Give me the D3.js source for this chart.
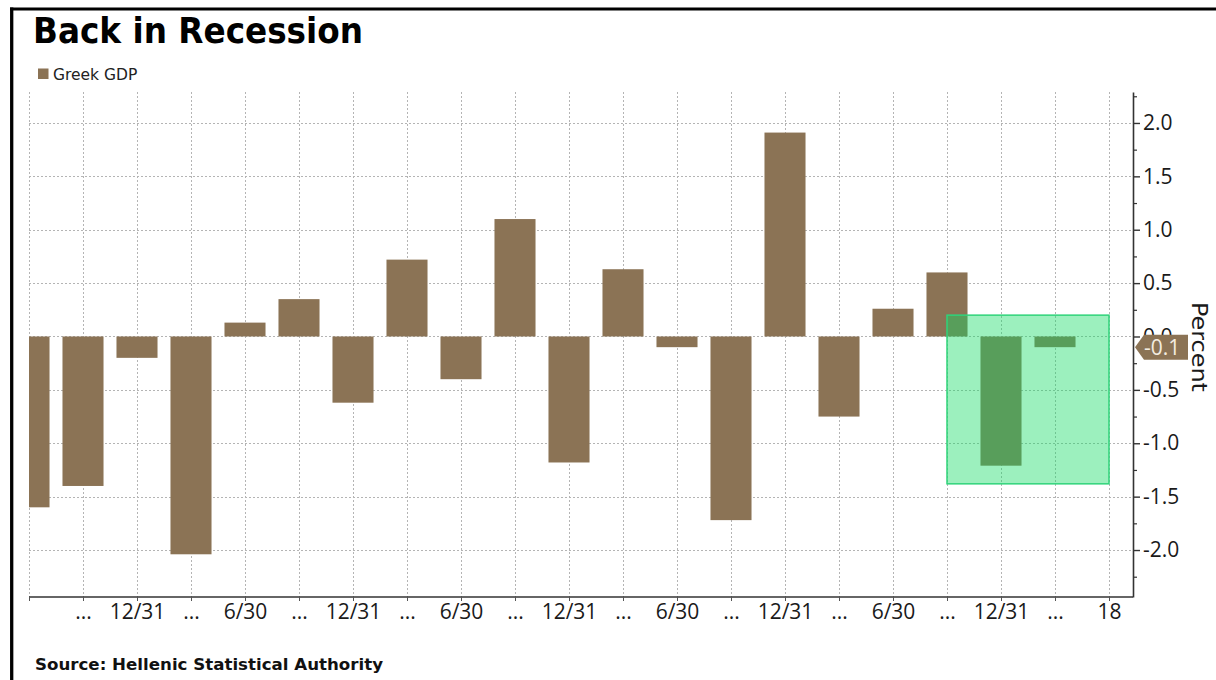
<!DOCTYPE html>
<html>
<head>
<meta charset="utf-8">
<script src="https://cdn.jsdelivr.net/npm/d3@7/dist/d3.min.js"></script>
<style>
  html, body { margin: 0; padding: 0; background: #fff; }
  svg { display: block; }
</style>
</head>
<body>
<svg id="chart" width="1216" height="680"></svg>
<script>
// Quarterly change in Greek GDP, percent (last slot on the axis has no reading yet)
const tickLabels = ["", "...", "12/31", "...", "6/30", "...", "12/31", "...", "6/30", "...",
                    "12/31", "...", "6/30", "...", "12/31", "...", "6/30", "...", "12/31", "...", "18"];
const gdpValues = [-1.6, -1.4, -0.2, -2.04, 0.13, 0.35, -0.62, 0.72, -0.4, 1.1,
                   -1.18, 0.63, -0.1, -1.72, 1.91, -0.75, 0.26, 0.6, -1.21, -0.1];
const majorTicks = [-2.0, -1.5, -1.0, -0.5, 0.0, 0.5, 1.0, 1.5, 2.0];
const minorTicks = [-2.25, -1.75, -1.25, -0.75, -0.25, 0.25, 0.75, 1.25, 1.75, 2.25];
// Shaded span: from slot 17 to slot 20, between these two values
const highlightSlots = [17, 20];
const highlightValues = [0.2, -1.38];

const seriesName = "Greek GDP";
const titleText = "Back in Recession";
const sourceText = "Source: Hellenic Statistical Authority";

const BAR = "#8b7355";
const GRID = "#b4b4b4";
const INK = "#1a1a1a";

const svg = d3.select("#chart");
const plot = { left: 29, right: 1133, top: 92, bottom: 597 };

const x = d3.scalePoint()
  .domain(d3.range(tickLabels.length))
  .range([plot.left, 1109]);
const barW = x.step() * 0.76;

const y = d3.scaleLinear()
  .domain([-2.44, 2.29])
  .range([plot.bottom, plot.top]);

// Frame
svg.append("line").attr("x1", 11.7).attr("x2", 11.7).attr("y1", 7.5).attr("y2", 680)
  .attr("stroke", "#000").attr("stroke-width", 3.3);
svg.append("line").attr("x1", 10).attr("x2", 1216).attr("y1", 9).attr("y2", 9)
  .attr("stroke", "#000").attr("stroke-width", 3);

// Title
svg.append("text")
  .attr("x", 33).attr("y", 43)
  .attr("font-family", "DejaVu Sans").attr("font-weight", "bold")
  .attr("font-size", 36).attr("fill", "#000")
  .attr("textLength", 330).attr("lengthAdjust", "spacingAndGlyphs")
  .text(titleText);

// Legend
svg.append("rect").attr("x", 38).attr("y", 68.5).attr("width", 10.5).attr("height", 10.5).attr("fill", BAR);
svg.append("text")
  .attr("x", 53).attr("y", 79.5)
  .attr("font-family", "DejaVu Sans").attr("font-size", 15.5).attr("fill", "#222")
  .text(seriesName);

// Clip for the plotting area
svg.append("defs").append("clipPath").attr("id", "plotClip")
  .append("rect")
  .attr("x", plot.left).attr("y", plot.top)
  .attr("width", plot.right - plot.left).attr("height", plot.bottom - plot.top);

const g = svg.append("g").attr("clip-path", "url(#plotClip)");

// Grid
g.selectAll("line.vgrid").data(x.domain()).join("line")
  .attr("class", "vgrid")
  .attr("x1", d => x(d) + 0.5).attr("x2", d => x(d) + 0.5)
  .attr("y1", plot.top).attr("y2", plot.bottom)
  .attr("stroke", GRID).attr("stroke-width", 1).attr("stroke-dasharray", "2,2");
g.selectAll("line.hgrid").data(majorTicks).join("line")
  .attr("class", "hgrid")
  .attr("x1", plot.left).attr("x2", plot.right)
  .attr("y1", d => Math.round(y(d)) + 0.5).attr("y2", d => Math.round(y(d)) + 0.5)
  .attr("stroke", GRID).attr("stroke-width", 1).attr("stroke-dasharray", "2,2");

// Bars
g.selectAll("rect.bar").data(gdpValues).join("rect")
  .attr("class", "bar")
  .attr("x", (d, i) => x(i) - barW / 2)
  .attr("width", barW)
  .attr("y", d => y(Math.max(0, d)))
  .attr("height", d => Math.abs(y(d) - y(0)))
  .attr("fill", BAR);

// Highlight box
const hx0 = x(highlightSlots[0]), hx1 = x(highlightSlots[1]);
const hy0 = y(highlightValues[0]), hy1 = y(highlightValues[1]);
svg.append("rect")
  .attr("x", hx0).attr("y", hy0)
  .attr("width", hx1 - hx0).attr("height", hy1 - hy0)
  .attr("fill", "rgb(20,220,100)").attr("fill-opacity", 0.42)
  .attr("stroke", "#2fd47a").attr("stroke-width", 1.5);

// X axis
svg.append("line")
  .attr("x1", plot.left).attr("x2", plot.right)
  .attr("y1", plot.bottom).attr("y2", plot.bottom)
  .attr("stroke", "#333").attr("stroke-width", 1.6);
const xAxis = svg.append("g")
  .attr("transform", `translate(0,${plot.bottom})`)
  .call(d3.axisBottom(x).tickSize(4).tickPadding(3).tickFormat(i => tickLabels[i]));
xAxis.select(".domain").remove();
xAxis.selectAll(".tick line").attr("stroke", "#555");
xAxis.selectAll(".tick text")
  .attr("font-family", "Open Sans").attr("font-size", 21).attr("fill", INK);

// Right value axis
const yAxis = svg.append("g")
  .attr("transform", `translate(${plot.right},0)`)
  .call(d3.axisRight(y).tickValues(majorTicks).tickSize(7).tickSizeOuter(0).tickPadding(3)
    .tickFormat(d => d.toFixed(1)));
yAxis.select(".domain").attr("stroke", "#333").attr("stroke-width", 1.6);
yAxis.selectAll(".tick line").attr("stroke", "#333").attr("stroke-width", 1.4);
yAxis.selectAll(".tick text")
  .attr("font-family", "Open Sans").attr("font-size", 21).attr("fill", INK);

const yMinor = svg.append("g")
  .attr("transform", `translate(${plot.right},0)`)
  .call(d3.axisRight(y).tickValues(minorTicks).tickSize(4).tickSizeOuter(0).tickFormat(""));
yMinor.select(".domain").remove();
yMinor.selectAll(".tick line").attr("stroke", "#333").attr("stroke-width", 1.2);

// Last-value tag on the axis
const lastVal = gdpValues[gdpValues.length - 1];
const ty = y(lastVal);
const tagPath = d3.path();
tagPath.moveTo(plot.right + 2, ty);
tagPath.lineTo(plot.right + 11, ty - 12.5);
tagPath.lineTo(plot.right + 55, ty - 12.5);
tagPath.lineTo(plot.right + 55, ty + 12.5);
tagPath.lineTo(plot.right + 11, ty + 12.5);
tagPath.closePath();
svg.append("path").attr("d", tagPath.toString()).attr("fill", BAR);
svg.append("text")
  .attr("x", plot.right + 11).attr("y", ty)
  .attr("dy", "0.35em")
  .attr("font-family", "Open Sans").attr("font-size", 21).attr("fill", "#f3ece0")
  .text(lastVal.toFixed(1));

// Axis title
svg.append("text")
  .attr("transform", `translate(1192,302) rotate(90)`)
  .attr("font-family", "DejaVu Sans").attr("font-size", 22).attr("fill", INK)
  .attr("textLength", 90).attr("lengthAdjust", "spacingAndGlyphs")
  .text("Percent");

// Source line
svg.append("text")
  .attr("x", 35).attr("y", 670)
  .attr("font-family", "DejaVu Sans").attr("font-weight", "bold")
  .attr("font-size", 16.5).attr("fill", "#111")
  .attr("textLength", 348).attr("lengthAdjust", "spacingAndGlyphs")
  .text(sourceText);
</script>
</body>
</html>
